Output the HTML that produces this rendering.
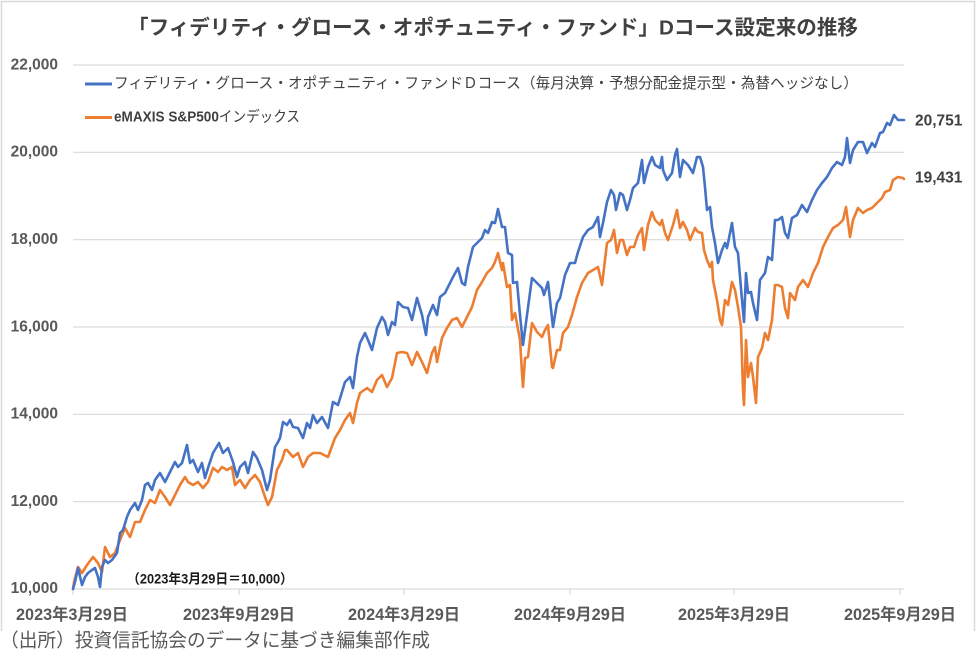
<!DOCTYPE html>
<html>
<head>
<meta charset="utf-8">
<style>
html,body{margin:0;padding:0;background:#fff;}
svg{display:block;}
.jp{font-family:"Liberation Sans","Noto Sans CJK JP",sans-serif;}
</style>
</head>
<body>
<svg width="976" height="661" viewBox="0 0 976 661" xmlns="http://www.w3.org/2000/svg">
<rect x="0" y="0" width="976" height="661" fill="#fff"/>
<!-- chart frame -->
<path d="M1.5,631 L1.5,1.5 L974.5,1.5 L974.5,631" fill="none" stroke="#d9d9d9" stroke-width="1.5"/>

<!-- title -->
<text class="jp" x="493" y="28" text-anchor="middle" dominant-baseline="central" font-size="20.5" font-weight="700" fill="#404040" textLength="730" lengthAdjust="spacingAndGlyphs">「フィデリティ・グロース・オポチュニティ・ファンド」Dコース設定来の推移</text>

<!-- gridlines -->
<g stroke="#d9d9d9" stroke-width="1.2">
<line x1="73" y1="65" x2="904" y2="65"/>
<line x1="73" y1="152.3" x2="904" y2="152.3"/>
<line x1="73" y1="239.7" x2="904" y2="239.7"/>
<line x1="73" y1="327" x2="904" y2="327"/>
<line x1="73" y1="414.3" x2="904" y2="414.3"/>
<line x1="73" y1="501.7" x2="904" y2="501.7"/>
<line x1="73" y1="589" x2="904" y2="589"/>
<line x1="73" y1="589" x2="73" y2="595"/>
<line x1="239" y1="589" x2="239" y2="595"/>
<line x1="404" y1="589" x2="404" y2="595"/>
<line x1="570" y1="589" x2="570" y2="595"/>
<line x1="734" y1="589" x2="734" y2="595"/>
<line x1="900" y1="589" x2="900" y2="595"/>
</g>

<!-- y labels -->
<g class="jp" font-size="15.5" font-weight="700" fill="#595959" text-anchor="end" dominant-baseline="central">
<text x="58" y="65">22,000</text>
<text x="58" y="152">20,000</text>
<text x="58" y="239.5">18,000</text>
<text x="58" y="327">16,000</text>
<text x="58" y="414">14,000</text>
<text x="58" y="501.5">12,000</text>
<text x="58" y="588.5">10,000</text>
</g>

<!-- x labels -->
<g class="jp" font-size="16.5" font-weight="700" fill="#595959" text-anchor="middle" dominant-baseline="central">
<text x="72" y="615" textLength="112" lengthAdjust="spacingAndGlyphs">2023年3月29日</text>
<text x="239" y="615" textLength="112" lengthAdjust="spacingAndGlyphs">2023年9月29日</text>
<text x="404" y="615" textLength="112" lengthAdjust="spacingAndGlyphs">2024年3月29日</text>
<text x="570" y="615" textLength="112" lengthAdjust="spacingAndGlyphs">2024年9月29日</text>
<text x="734" y="615" textLength="112" lengthAdjust="spacingAndGlyphs">2025年3月29日</text>
<text x="900" y="615" textLength="112" lengthAdjust="spacingAndGlyphs">2025年9月29日</text>
</g>

<!-- legend -->
<line x1="85" y1="84" x2="112" y2="84" stroke="#4472C4" stroke-width="3"/>
<text class="jp" x="114" y="84" dominant-baseline="central" font-size="14.6" fill="#404040" textLength="744" lengthAdjust="spacingAndGlyphs">フィデリティ・グロース・オポチュニティ・ファンドＤコース（毎月決算・予想分配金提示型・為替ヘッジなし）</text>
<line x1="85" y1="117.5" x2="112" y2="117.5" stroke="#ED7D31" stroke-width="3"/>
<text class="jp" x="114" y="117.5" dominant-baseline="central" font-size="14.6" fill="#404040" textLength="186" lengthAdjust="spacingAndGlyphs"><tspan font-weight="700">eMAXIS S&amp;P500</tspan>インデックス</text>

<!-- series -->
<polyline fill="none" stroke="#ED7D31" stroke-width="2.6" stroke-linejoin="round" stroke-linecap="round" points="73,589 74,582 78,567 82,573 87,565 93,557 98,563 102,572 105,547 110,557 115,553 120,540 125,528 130,537 135,522 140,522 145,510 150,500 155,503 160,490 165,497 170,505 175,495 180,485 185,477 188,482 193,485 198,482 203,488 208,482 213,468 218,472 222,467 227,470 232,467 235,485 240,480 245,488 250,480 255,475 260,482 265,497 268,505 272,497 277,470 282,460 285,450 287,450 293,457 298,453 303,467 308,457 313,453 320,453 328,457 335,438 340,430 345,420 350,413 353,423 357,403 360,393 367,388 372,392 377,380 382,375 387,387 392,378 397,353 402,352 407,353 412,365 417,352 422,362 427,373 432,353 435,347 437,362 442,338 447,328 452,320 457,318 462,327 467,317 472,307 477,290 482,282 487,273 492,268 495,262 498,253 502,270 503,263 507,287 510,285 512,320 515,313 520,340 522,373 523,387 525,358 528,357 532,323 537,332 542,337 545,330 548,325 552,367 553,368 557,350 560,350 563,333 568,327 572,315 577,297 582,283 588,273 593,270 598,267 602,285 607,243 611,240 614,230 617,253 620,240 623,240 627,255 630,247 634,247 638,235 642,228 644,250 648,225 652,212 655,220 660,225 662,220 665,233 668,240 673,225 677,210 680,228 683,222 687,230 690,240 695,228 698,232 702,233 704,250 707,260 710,267 712,262 713,280 717,300 720,320 722,325 725,300 728,305 732,282 735,290 738,307 741,327 743,390 744,405 746,340 748,377 751,363 753,377 756,403 758,357 762,348 765,333 768,340 772,320 775,285 778,285 782,287 785,308 788,318 790,293 795,300 798,287 803,280 808,287 813,273 818,263 823,247 828,237 833,228 838,225 843,220 846,207 850,237 853,220 858,208 863,213 867,210 872,208 877,203 882,198 885,192 890,190 893,180 898,177 903,178 904,179"/>
<polyline fill="none" stroke="#4472C4" stroke-width="2.6" stroke-linejoin="round" stroke-linecap="round" points="73,589 75,582 78,568 82,585 85,577 88,573 92,570 95,568 98,577 100,587 102,567 105,560 108,563 112,560 117,553 120,533 123,530 127,517 130,510 135,503 138,510 142,500 145,485 148,483 152,490 155,480 160,473 165,482 170,472 175,462 178,467 182,463 187,445 190,463 193,460 198,472 202,463 205,478 208,468 213,453 219,443 223,453 228,448 233,462 237,477 240,467 245,462 248,473 253,452 257,458 262,470 267,490 270,480 275,447 278,442 280,438 283,422 287,425 290,420 293,427 298,428 303,438 307,423 310,428 313,415 317,423 322,417 328,428 333,402 338,405 345,382 350,377 353,388 357,357 360,343 365,333 368,340 372,350 377,328 382,317 385,322 388,335 392,322 395,325 398,302 403,307 408,308 412,320 417,298 422,315 426,335 428,317 433,305 437,315 440,297 445,293 448,287 453,277 458,268 462,283 465,285 468,267 473,247 478,242 482,238 485,230 488,233 492,222 495,223 498,209 502,227 505,227 508,253 512,255 513,283 517,282 520,315 523,345 527,315 532,278 537,283 542,288 544,295 548,282 552,318 553,327 557,303 560,298 565,275 570,263 575,263 578,252 583,237 588,230 593,227 598,217 600,237 603,223 607,202 611,190 614,195 616,210 620,193 623,195 627,210 630,200 633,188 638,183 642,160 644,183 648,167 652,157 655,165 660,168 662,157 663,170 667,180 672,173 675,155 677,149 680,177 683,160 688,165 693,173 697,157 700,157 703,167 705,187 707,210 710,207 712,227 715,243 718,263 722,250 725,243 727,248 732,223 735,247 738,253 742,300 744,322 746,273 748,293 751,292 753,303 757,320 760,280 765,273 768,257 772,260 775,220 778,220 782,217 785,233 788,238 792,218 797,215 802,205 807,212 812,200 817,190 822,183 827,177 832,168 837,162 842,165 845,157 847,138 850,163 853,150 858,142 863,142 867,153 872,143 875,147 880,133 883,132 887,123 890,125 894,115 898,120 903,120 904,120"/>

<!-- end labels -->
<g class="jp" font-size="15.5" font-weight="700" fill="#404040" dominant-baseline="central">
<text x="915" y="121">20,751</text>
<text x="915" y="178">19,431</text>
</g>

<!-- annotation -->
<text class="jp" x="127" y="579" dominant-baseline="central" font-size="13.5" font-weight="700" fill="#1a1a1a" textLength="166" lengthAdjust="spacingAndGlyphs">（2023年3月29日＝10,000）</text>

<!-- footer -->
<rect x="0" y="632" width="976" height="29" fill="#fff"/>
<text class="jp" x="0" y="641" dominant-baseline="central" font-size="19" fill="#595959" textLength="430" lengthAdjust="spacingAndGlyphs">（出所）投資信託協会のデータに基づき編集部作成</text>
</svg>
</body>
</html>
